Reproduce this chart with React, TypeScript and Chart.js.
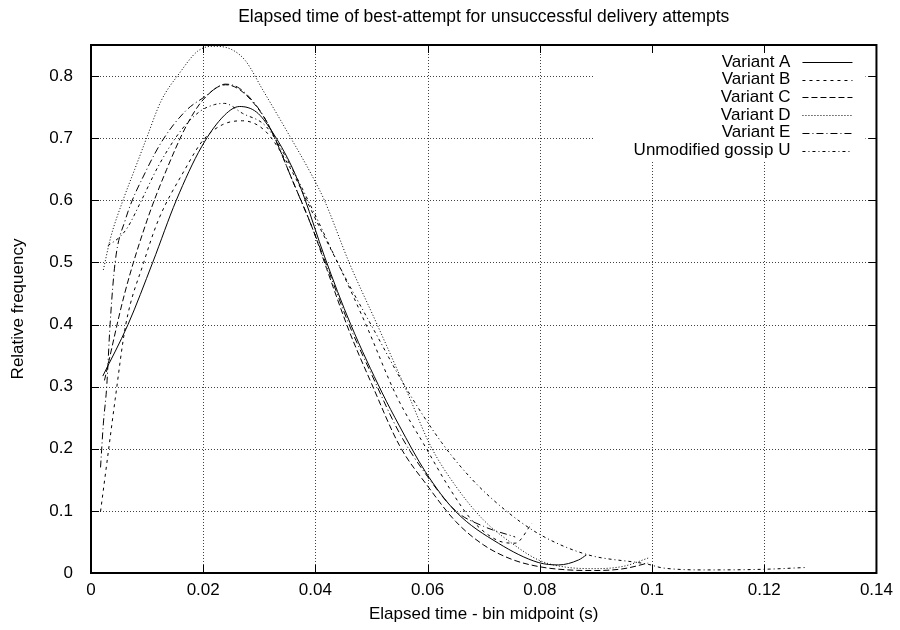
import React, { useEffect, useRef } from 'react';
import { Chart, registerables } from 'chart.js';

Chart.register(...registerables);

const chartTitle = 'Elapsed time of best-attempt for unsuccessful delivery attempts';
const xAxisTitle = 'Elapsed time - bin midpoint (s)';
const yAxisTitle = 'Relative frequency';

const xTickValues = [0, 0.02, 0.04, 0.06, 0.08, 0.1, 0.12, 0.14];
const xTickLabels = ['0', '0.02', '0.04', '0.06', '0.08', '0.1', '0.12', '0.14'];
const yTickValues = [0, 0.1, 0.2, 0.3, 0.4, 0.5, 0.6, 0.7, 0.8];
const yTickLabels = ['0', '0.1', '0.2', '0.3', '0.4', '0.5', '0.6', '0.7', '0.8'];

const seriesNames = ['Variant A', 'Variant B', 'Variant C', 'Variant D', 'Variant E', 'Unmodified gossip U'];

const variantAX = [0.0021, 0.0066, 0.011, 0.0152, 0.0197, 0.0238, 0.0265, 0.0295, 0.0321, 0.0359, 0.038, 0.0416, 0.0463, 0.0519, 0.0549, 0.0596, 0.065, 0.0726, 0.0797, 0.0833, 0.0869, 0.0883];
const variantAY = [0.317, 0.40, 0.50, 0.60, 0.686, 0.737, 0.751, 0.742, 0.713, 0.652, 0.605, 0.51, 0.40, 0.29, 0.238, 0.163, 0.099, 0.048, 0.017, 0.013, 0.021, 0.029];

const variantBX = [0.0017, 0.0032, 0.0043, 0.0062, 0.0094, 0.012, 0.0167, 0.02, 0.0235, 0.027, 0.031, 0.035, 0.041, 0.0442, 0.049, 0.0545, 0.0596, 0.064, 0.0679, 0.0726, 0.0756, 0.0786];
const variantBY = [0.099, 0.203, 0.279, 0.40, 0.50, 0.568, 0.649, 0.697, 0.722, 0.728, 0.712, 0.66, 0.552, 0.495, 0.40, 0.284, 0.203, 0.135, 0.085, 0.052, 0.048, 0.08];

const variantCX = [0.0024, 0.006, 0.01, 0.0135, 0.017, 0.02, 0.024, 0.0265, 0.03, 0.0321, 0.036, 0.0396, 0.042, 0.046, 0.05, 0.055, 0.06, 0.065, 0.07, 0.075, 0.08, 0.085, 0.09, 0.095, 0.0993];
const variantCY = [0.31, 0.45, 0.568, 0.65, 0.72, 0.762, 0.786, 0.778, 0.745, 0.713, 0.63, 0.552, 0.49, 0.39, 0.305, 0.205, 0.14, 0.083, 0.045, 0.022, 0.01, 0.005, 0.004, 0.007, 0.016];

const variantDX = [0.0022, 0.0035, 0.0057, 0.0078, 0.0099, 0.0125, 0.0158, 0.019, 0.0217, 0.025, 0.0275, 0.0306, 0.035, 0.0395, 0.0416, 0.046, 0.051, 0.0567, 0.0605, 0.065, 0.07, 0.075, 0.08, 0.085, 0.09, 0.095, 0.0993];
const variantDY = [0.488, 0.54, 0.60, 0.65, 0.70, 0.76, 0.805, 0.84, 0.848, 0.843, 0.825, 0.778, 0.71, 0.638, 0.60, 0.50, 0.40, 0.284, 0.205, 0.14, 0.085, 0.048, 0.02, 0.009, 0.007, 0.011, 0.024];

const variantEX = [0.0017, 0.0022, 0.0028, 0.0034, 0.0043, 0.0061, 0.0099, 0.013, 0.017, 0.02, 0.024, 0.0265, 0.03, 0.0321, 0.036, 0.0396, 0.042, 0.046, 0.05, 0.055, 0.06, 0.065, 0.07, 0.0756];
const variantEY = [0.17, 0.24, 0.30, 0.40, 0.50, 0.568, 0.649, 0.70, 0.745, 0.765, 0.787, 0.78, 0.746, 0.713, 0.63, 0.552, 0.495, 0.40, 0.32, 0.225, 0.155, 0.10, 0.075, 0.058];

const gossipUX = [0.003, 0.005, 0.0065, 0.009, 0.012, 0.016, 0.0194, 0.022, 0.0238, 0.027, 0.0312, 0.035, 0.0395, 0.0445, 0.0505, 0.056, 0.0625, 0.068, 0.074, 0.08, 0.0883, 0.0993, 0.102, 0.11, 0.12, 0.1277];
const gossipUY = [0.527, 0.54, 0.556, 0.60, 0.655, 0.712, 0.743, 0.754, 0.756, 0.74, 0.719, 0.665, 0.585, 0.49, 0.39, 0.30, 0.21, 0.15, 0.10, 0.062, 0.03, 0.014, 0.008, 0.005, 0.006, 0.009];

const seriesX = [variantAX, variantBX, variantCX, variantDX, variantEX, gossipUX];
const seriesY = [variantAY, variantBY, variantCY, variantDY, variantEY, gossipUY];

const FONT_FAMILY = '"Liberation Sans", Arial, Helvetica, sans-serif';
const FONT_SIZE = 17;
const TITLE_SIZE = 17.5;
const seriesDashes: number[][] = [[], [3, 4], [6, 3], [1, 2], [7, 3, 1, 3], [3, 3, 1, 3]];

const gnuplotPlugin = {
  id: 'gnuplotLook',
  beforeDatasetsDraw(chart: any) {
    const { ctx, chartArea: a } = chart;
    const xs = chart.scales.x;
    const ys = chart.scales.y;
    ctx.save();
    // dotted grid
    ctx.strokeStyle = 'rgba(0,0,0,0.75)';
    ctx.lineWidth = 1;
    ctx.setLineDash([1, 2]);
    ctx.beginPath();
    xTickValues.forEach((v) => {
      const px = Math.round(xs.getPixelForValue(v)) + 0.5;
      if (px > a.left + 2 && px < a.right - 2) {
        ctx.moveTo(px, a.top);
        ctx.lineTo(px, a.bottom);
      }
    });
    yTickValues.forEach((v) => {
      const py = Math.round(ys.getPixelForValue(v)) + 0.5;
      if (py > a.top + 2 && py < a.bottom - 2) {
        ctx.moveTo(a.left, py);
        ctx.lineTo(a.right, py);
      }
    });
    ctx.stroke();
    ctx.setLineDash([]);

    // legend (opaque box, right-aligned text, sample line to the right)
    const sampleRight = a.right - 24;
    const sampleLeft = a.right - 74;
    const textRight = a.right - 86;
    const rowTop = a.top + 17;
    const rowStep = 17.7;
    ctx.font = `${FONT_SIZE}px ${FONT_FAMILY}`;
    let maxW = 0;
    seriesNames.forEach((n) => {
      maxW = Math.max(maxW, ctx.measureText(n).width);
    });
    const boxLeft = textRight - maxW - 40;
    const boxBottom = rowTop + rowStep * (seriesNames.length - 1) + 10;
    ctx.fillStyle = '#fff';
    ctx.fillRect(boxLeft, a.top + 1, a.right - 11 - boxLeft, boxBottom - a.top);
    ctx.fillStyle = '#000';
    ctx.textAlign = 'right';
    ctx.textBaseline = 'middle';
    seriesNames.forEach((n, i) => {
      const y = rowTop + i * rowStep;
      ctx.fillText(n, textRight, y);
      ctx.beginPath();
      ctx.strokeStyle = '#000';
      ctx.lineWidth = 1;
      ctx.setLineDash(seriesDashes[i]);
      ctx.moveTo(sampleLeft, Math.round(y) + 0.5);
      ctx.lineTo(sampleRight, Math.round(y) + 0.5);
      ctx.stroke();
    });
    ctx.restore();
  },
  afterDatasetsDraw(chart: any) {
    const { ctx, chartArea: a } = chart;
    const xs = chart.scales.x;
    const ys = chart.scales.y;
    ctx.save();
    ctx.strokeStyle = '#000';
    ctx.setLineDash([]);
    ctx.lineWidth = 1;
    const tl = 8;
    ctx.beginPath();
    xTickValues.forEach((v) => {
      const px = Math.round(xs.getPixelForValue(v)) + 0.5;
      ctx.moveTo(px, a.bottom);
      ctx.lineTo(px, a.bottom - tl);
      ctx.moveTo(px, a.top);
      ctx.lineTo(px, a.top + tl);
    });
    yTickValues.forEach((v) => {
      const py = Math.round(ys.getPixelForValue(v)) + 0.5;
      ctx.moveTo(a.left, py);
      ctx.lineTo(a.left + tl, py);
      ctx.moveTo(a.right, py);
      ctx.lineTo(a.right - tl, py);
    });
    ctx.stroke();
    ctx.lineWidth = 2;
    ctx.strokeRect(a.left, a.top, a.right - a.left, a.bottom - a.top);

    // title centred over the plot area
    ctx.fillStyle = '#000';
    ctx.font = `${TITLE_SIZE}px ${FONT_FAMILY}`;
    ctx.textAlign = 'center';
    ctx.textBaseline = 'middle';
    ctx.fillText(chartTitle, (a.left + a.right) / 2, 17);
    ctx.restore();
  },
};

export default function App() {
  const canvasRef = useRef<HTMLCanvasElement | null>(null);

  useEffect(() => {
    if (!canvasRef.current) return;
    const datasets = seriesNames.map((name, i) => ({
      label: name,
      data: seriesX[i].map((x, j) => ({ x, y: seriesY[i][j] })),
      borderColor: '#000',
      backgroundColor: '#000',
      borderWidth: 1,
      borderDash: seriesDashes[i],
      pointRadius: 0,
      fill: false,
      cubicInterpolationMode: 'monotone' as const,
    }));

    const chart = new Chart(canvasRef.current, {
      type: 'line',
      data: { datasets },
      options: {
        animation: false,
        responsive: true,
        maintainAspectRatio: false,
        devicePixelRatio: 1,
        layout: { padding: { left: 0, right: 21, top: 45, bottom: 0 } },
        plugins: {
          legend: { display: false },
          tooltip: { enabled: false },
          title: { display: false },
        },
        scales: {
          x: {
            type: 'linear',
            min: 0,
            max: 0.14,
            afterBuildTicks: (scale: any) => {
              scale.ticks = xTickValues.map((v) => ({ value: v }));
            },
            afterFit: (scale: any) => {
              scale.height = 57;
            },
            grid: { display: false, drawTicks: false },
            border: { display: false },
            ticks: {
              color: '#000',
              padding: 7,
              maxRotation: 0,
              autoSkip: false,
              font: { family: FONT_FAMILY, size: FONT_SIZE },
              callback: (_v: any, i: number) => xTickLabels[i],
            },
            title: {
              display: true,
              text: xAxisTitle,
              color: '#000',
              font: { family: FONT_FAMILY, size: FONT_SIZE, lineHeight: 1.2 },
              padding: { top: 0, bottom: 5 },
            },
          },
          y: {
            type: 'linear',
            min: 0,
            max: 0.85,
            afterBuildTicks: (scale: any) => {
              scale.ticks = yTickValues.map((v) => ({ value: v }));
            },
            afterFit: (scale: any) => {
              scale.width = 91;
            },
            grid: { display: false, drawTicks: false },
            border: { display: false },
            ticks: {
              color: '#000',
              padding: 18,
              autoSkip: false,
              font: { family: FONT_FAMILY, size: FONT_SIZE },
              callback: (_v: any, i: number) => yTickLabels[i],
            },
            title: {
              display: true,
              text: yAxisTitle,
              color: '#000',
              font: { family: FONT_FAMILY, size: FONT_SIZE, lineHeight: 1.2 },
              padding: { top: 8, bottom: 0 },
            },
          },
        },
      },
      plugins: [gnuplotPlugin],
    });
    return () => chart.destroy();
  }, []);

  return (
    <div style={{ position: 'fixed', left: 0, top: 0, width: 900, height: 630, background: '#fff' }}>
      <canvas ref={canvasRef} />
    </div>
  );
}
